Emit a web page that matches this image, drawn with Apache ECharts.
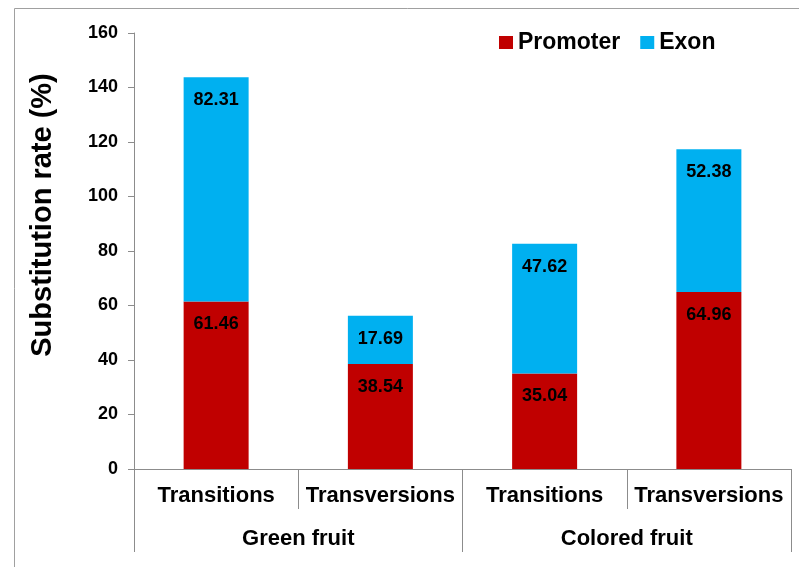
<!DOCTYPE html>
<html>
<head>
<meta charset="utf-8">
<script src="https://cdn.jsdelivr.net/npm/echarts@6/dist/echarts.min.js"></script>
<style>
  html, body { margin: 0; padding: 0; background: #fff; }
  #chart { width: 799px; height: 567px; }
</style>
</head>
<body>
<div id="chart"></div>
<script>
// data
const types = ['Transitions', 'Transversions', 'Transitions', 'Transversions']
const groups = ['Green fruit', 'Colored fruit']
const promoter = [61.46, 38.54, 35.04, 64.96]
const exon = [82.31, 17.69, 47.62, 52.38]

const font = 'Liberation Sans, Arial, sans-serif'
const axisColor = '#8c8c8c'

const chart = echarts.init(document.getElementById('chart'))

const labelStyle = {
  show: true,
  position: 'insideTop',
  distance: 14,
  color: '#000',
  fontFamily: font,
  fontWeight: 'bold',
  fontSize: 18
}

const option = {
  animation: false,
  textStyle: { fontFamily: font },
  graphic: [
    {
      type: 'rect',
      shape: { x: 14.5, y: 8.5, width: 900, height: 700 },
      style: { fill: 'none', stroke: '#a0a0a0', lineWidth: 1 },
      silent: true
    },
    {
      type: 'text',
      x: 43,
      y: 215,
      rotation: Math.PI / 2,
      style: {
        text: 'Substitution rate (%)',
        fontFamily: font,
        fontWeight: 'bold',
        fontSize: 29,
        fill: '#000',
        align: 'center',
        verticalAlign: 'middle'
      }
    }
  ],
  legend: {
    left: 499,
    top: 31,
    padding: 0,
    itemWidth: 14,
    itemHeight: 13,
    itemGap: 20,
    icon: 'rect',
    textStyle: { fontFamily: font, fontWeight: 'bold', fontSize: 23, color: '#000' },
    data: ['Promoter', 'Exon']
  },
  grid: { left: 134, right: 8, top: 33, bottom: 98 },
  xAxis: [
    {
      type: 'category',
      data: types,
      axisLine: { show: true, lineStyle: { color: axisColor, width: 1 } },
      axisTick: { show: true, interval: 0, length: 40, lineStyle: { color: axisColor, width: 1 } },
      axisLabel: {
        interval: 0,
        margin: 16,
        color: '#000',
        fontFamily: font,
        fontWeight: 'bold',
        fontSize: 22
      }
    },
    {
      type: 'category',
      position: 'bottom',
      data: groups,
      axisLine: { show: true, lineStyle: { color: axisColor, width: 1 } },
      axisTick: { show: true, interval: 0, length: 83, lineStyle: { color: axisColor, width: 1 } },
      axisLabel: {
        interval: 0,
        margin: 59,
        color: '#000',
        fontFamily: font,
        fontWeight: 'bold',
        fontSize: 22
      }
    }
  ],
  yAxis: {
    type: 'value',
    min: 0,
    max: 160,
    interval: 20,
    splitLine: { show: false },
    axisLine: { show: true, lineStyle: { color: axisColor, width: 1 } },
    axisTick: { show: true, length: 6, lineStyle: { color: axisColor } },
    axisLabel: {
      margin: 16,
      color: '#000',
      fontFamily: font,
      fontWeight: 'bold',
      fontSize: 18
    }
  },
  series: [
    {
      name: 'Promoter',
      type: 'bar',
      stack: 'total',
      barWidth: 65,
      itemStyle: { color: '#C00000' },
      label: labelStyle,
      data: promoter
    },
    {
      name: 'Exon',
      type: 'bar',
      stack: 'total',
      barWidth: 65,
      itemStyle: { color: '#00B0F0' },
      label: labelStyle,
      data: exon
    }
  ]
}

chart.setOption(option)
</script>
</body>
</html>
